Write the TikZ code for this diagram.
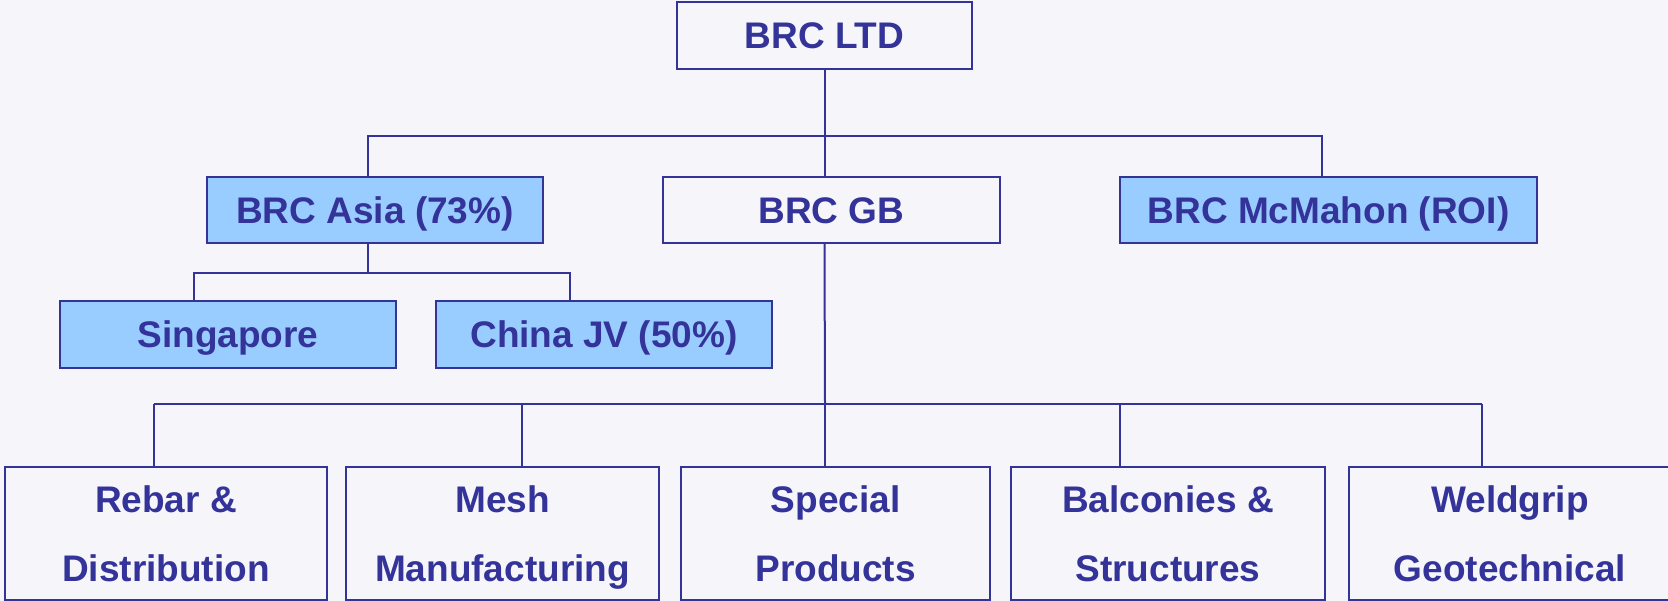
\documentclass[tikz,border=0pt]{standalone}
\usepackage{fontspec}
\setmainfont{Liberation Sans}
\usepackage{tikz}
\usetikzlibrary{calc}
\definecolor{brcblue}{HTML}{333399}
\definecolor{brcfill}{HTML}{99CCFF}
\definecolor{brcback}{HTML}{F5F5FA}
\tikzset{
  unit/.style={draw=brcblue, line width=2pt, text=brcblue, inner sep=0pt,
    font=\bfseries\fontsize{37}{69}\selectfont, text height=27pt, text depth=0pt},
  sub/.style={unit, fill=brcfill},
  plain/.style={unit, fill=brcback},
  conn/.style={draw=brcblue, line width=2pt}
}
\newcommand{\twolines}[2]{\parbox[t]{300pt}{\centering #1\\#2}}

\begin{document}
\begin{tikzpicture}[x=1pt, y=-1pt]
           \fill[brcback] (0,0) rectangle (1668,601);
           \useasboundingbox (0,0) rectangle (1668,601);

           %top
           \node[plain, minimum width=295pt, minimum height=67pt] (ltd) at (824.5,35.5) {BRC LTD};

           %second row
           \node[sub, minimum width=336pt, minimum height=66pt] (asia) at (375,210) {BRC Asia (73\%)};
           \node[plain, minimum width=337pt, minimum height=66pt] (gb) at (831.5,210) {BRC GB};
           \node[sub, minimum width=417pt, minimum height=66pt] (mcm) at (1328.5,210) {BRC McMahon (ROI)};

           %asia
           \node[sub, minimum width=336pt, minimum height=67pt] (sing) at (228,334.5) {Singapore};
           \node[sub, minimum width=336pt, minimum height=67pt] (china) at (604,334.5) {China JV (50\%)};

           %gb divisions
           \tikzset{div/.style={plain, minimum height=133pt, text height=27pt, text depth=69pt}}
           \node[div, minimum width=322pt] (rebar) at (166,533.5) {\twolines{Rebar \&}{Distribution}};
           \node[div, minimum width=313pt] (mesh) at (502.5,533.5) {\twolines{Mesh}{Manufacturing}};
           \node[div, minimum width=309pt] (special) at (835.5,533.5) {\twolines{Special}{Products}};
           \node[div, minimum width=314pt] (balc) at (1168,533.5) {\twolines{Balconies \&}{Structures}};
           \node[div, minimum width=322pt] (weld) at (1510,533.5) {\twolines{Weldgrip}{Geotechnical}};

           % lines
           \coordinate (ta) at (368,136);
           \coordinate (tm) at (1322,136);
           \draw[conn] (ltd.south) -- (ltd.south |- gb.north);
           \draw[conn] (ta |- asia.north) -- (ta) -- (tm) -- (tm |- mcm.north);

           \coordinate (sa) at (194,273);
           \coordinate (sc) at (570,273);
           \draw[conn] (ta |- asia.south) -- (ta |- sa);
           \draw[conn] (sa |- sing.north) -- (sa) -- (sc) -- (sc |- china.north);

           \foreach \name/\x in {rebar/154, mesh/522, special/825, balc/1120, weld/1482}{
             \coordinate (b-\name) at (\x,404);
             \draw[conn] (b-\name) -- (b-\name |- \name.north);
           }
           \draw[conn] (b-rebar) -- (b-weld);
           \draw[conn] (ltd.south |- gb.south) -- (b-special);
        \end{tikzpicture}
\end{document}
